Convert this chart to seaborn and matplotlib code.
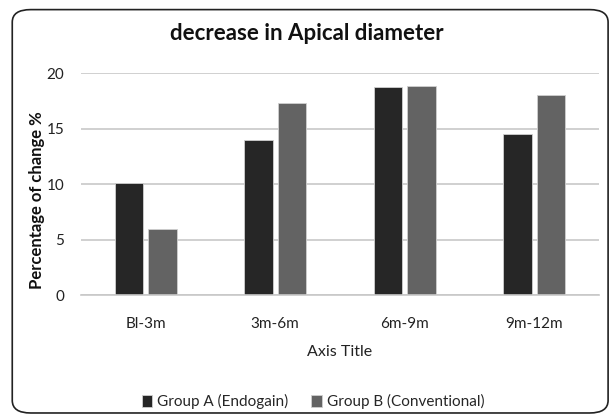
import pandas as pd
import seaborn as sns
import matplotlib.pyplot as plt
from matplotlib.patches import FancyBboxPatch

periods = ['Bl-3m', '3m-6m', '6m-9m', '9m-12m']
group_a = [10.1, 13.95, 18.75, 14.55]
group_b = [5.95, 17.35, 18.85, 18.0]
groups = ['Group A (Endogain)', 'Group B (Conventional)']
colors = ['#262626', '#636363']

df = pd.DataFrame({
    'period': periods * 2,
    'value': group_a + group_b,
    'group': [groups[0]] * 4 + [groups[1]] * 4,
})

sns.set_style('white')
plt.rcParams['font.family'] = ['Lato', 'DejaVu Sans']

fig = plt.figure(figsize=(6.13, 4.18), dpi=100)
ax = fig.add_axes([0.132, 0.294, 0.845, 0.531])

sns.barplot(data=df, x='period', y='value', hue='group', palette=colors,
            width=0.52, gap=0.15, edgecolor='#d0d0d0', linewidth=0.6, ax=ax)

ax.set_ylim(0, 20)
ax.set_yticks([0, 5, 10, 15, 20])
ax.yaxis.grid(True, color='#c8c8c8', linewidth=1.2)
ax.set_axisbelow(True)
for s in ['top', 'right', 'left']:
    ax.spines[s].set_visible(False)
ax.spines['bottom'].set_color('#c8c8c8')
ax.spines['bottom'].set_linewidth(1.2)
ax.tick_params(axis='both', length=0, labelsize=11, colors='#222222')
ax.tick_params(axis='x', pad=16)
ax.tick_params(axis='y', pad=12)

ax.set_xlabel('Axis Title', fontsize=11.5, color='#222222', labelpad=10)
ax.set_ylabel('Percentage of change %', fontsize=12, fontweight='bold',
              color='#111111')
ax.yaxis.set_label_coords(-0.07, 0.43)
fig.text(0.5, 0.92, 'decrease in Apical diameter', ha='center', va='center',
         fontsize=16, fontweight='bold', color='#111111')

ax.legend(loc='center', bbox_to_anchor=(0.448, -0.48), ncol=2, frameon=False,
          fontsize=11, handlelength=0.7, handleheight=0.9, handletextpad=0.3,
          columnspacing=1.5)

frame = FancyBboxPatch((0.02, 0.012), 0.972, 0.965, transform=fig.transFigure,
                       boxstyle='round,pad=0,rounding_size=0.03',
                       facecolor='none', edgecolor='#222222', linewidth=1.2)
fig.patches.append(frame)

fig.savefig('out.png', dpi=100)
